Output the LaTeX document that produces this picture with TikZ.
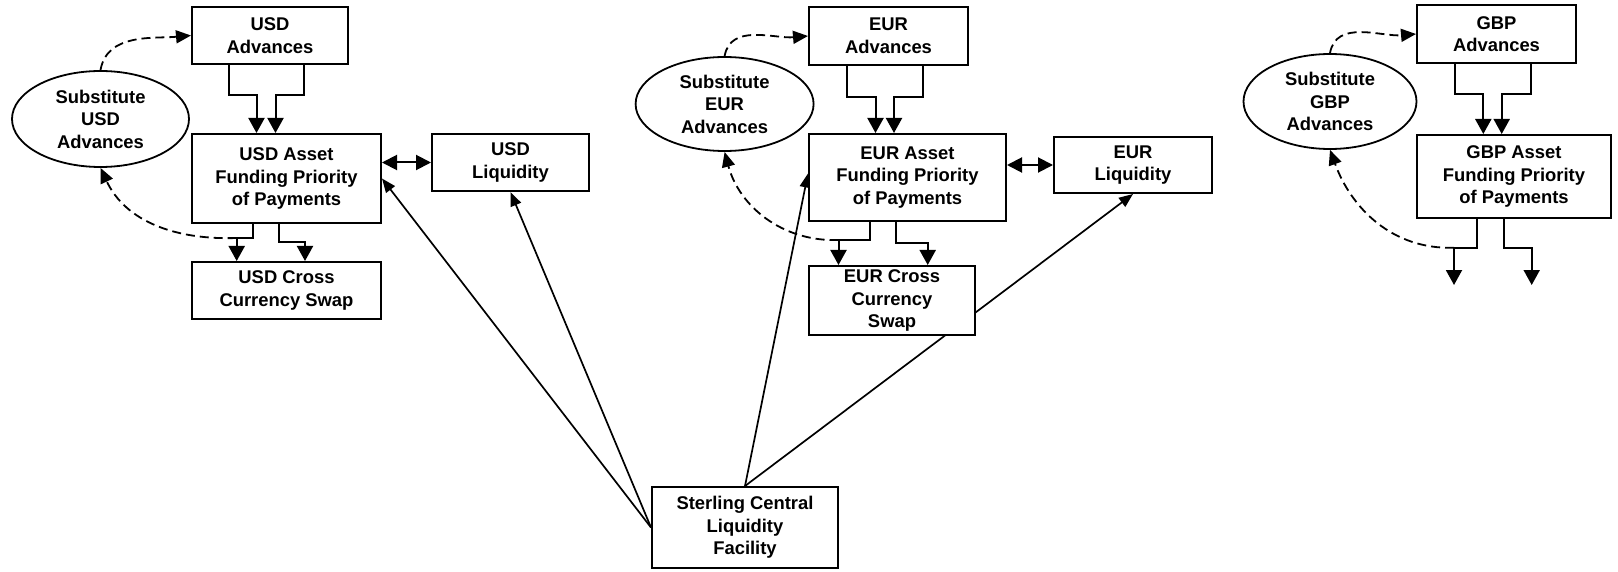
\documentclass[tikz,border=0pt]{standalone}
\usepackage{fontspec}
\setmainfont{Liberation Sans}
\usetikzlibrary{arrows.meta,backgrounds,shapes.geometric,calc}

\begin{document}
\begin{tikzpicture}[x=1bp,y=-1bp,
  font=\fontsize{18.4bp}{22.5bp}\selectfont\bfseries,
  box/.style={draw,line width=2bp,fill=white,rectangle,align=center,inner sep=0pt},
  oval/.style={draw,line width=1.8bp,fill=white,ellipse,align=center,inner sep=0pt},
  flow/.style={line width=2bp,-{Triangle[length=15bp,width=16bp]}},
  link/.style={line width=1.7bp,-{Triangle[length=14bp,width=11bp]}},
  both/.style={line width=2bp,{Triangle[length=15bp,width=15bp]}-{Triangle[length=15bp,width=15bp]}},
  subst/.style={line width=1.8bp,dash pattern=on 9bp off 5bp,-{Triangle[length=15bp,width=13bp]}}
]
\useasboundingbox (0,0) rectangle (1618,572);

% ---- USD column
\node[box,minimum width=156bp,minimum height=57bp] (usdadv) at (270,35.5) {USD\\Advances};
\node[oval,minimum width=177bp,minimum height=96bp] (usdsub) at (100.5,119) {Substitute\\USD\\Advances};
\node[box,minimum width=189bp,minimum height=89bp] (usdfpp) at (286.5,178.5) {USD Asset\\Funding Priority\\of Payments};
\node[box,minimum width=157bp,minimum height=57bp] (usdliq) at (510.5,162.5) {USD\\Liquidity};
\node[box,minimum width=189bp,minimum height=57bp] (usdccs) at (286.5,290.5) {USD Cross\\Currency Swap};

% ---- EUR column
\node[box,minimum width=159bp,minimum height=58bp] (euradv) at (888.5,36) {EUR\\Advances};
\node[oval,minimum width=178bp,minimum height=94bp] (eursub) at (724.6,104) {Substitute\\EUR\\Advances};
\node[box,minimum width=197bp,minimum height=87bp] (eurfpp) at (907.5,177.5) {EUR Asset\\Funding Priority\\of Payments};
\node[box,minimum width=158bp,minimum height=56bp] (eurliq) at (1133,165) {EUR\\Liquidity};
\node[box,minimum width=166bp,minimum height=69bp] (eurccs) at (892,300.5) {EUR Cross\\Currency\\Swap};

% ---- GBP column
\node[box,minimum width=159bp,minimum height=58bp] (gbpadv) at (1496.5,34) {GBP\\Advances};
\node[oval,minimum width=173bp,minimum height=95bp] (gbpsub) at (1330,101.5) {Substitute\\GBP\\Advances};
\node[box,minimum width=194bp,minimum height=83bp] (gbpfpp) at (1514,176.5) {GBP Asset\\Funding Priority\\of Payments};

% ---- Liquidity facility
\node[box,minimum width=186bp,minimum height=81bp] (sclf) at (745,527.5) {Sterling Central\\Liquidity\\Facility};

% split points below the priority-of-payments boxes
\coordinate (usdsplit) at ($(usdfpp.south)+(-49.8,14)$);
\coordinate (eursplit) at ($(eurfpp.south)+(-69,18)$);
\coordinate (gbpsplit) at ($(gbpfpp.south)+(-60,28.7)$);
\coordinate (gbpout1) at (1454,285);
\coordinate (gbpout2) at (1531.7,285);

\begin{scope}[on background layer]
  % advances into priority of payments
  \draw[flow] ([xshift=-41bp]usdadv.south) -- ++(0,30) -| ([xshift=-30bp]usdfpp.north);
  \draw[flow] ([xshift=34bp]usdadv.south) -- ++(0,30) -| ([xshift=-11bp]usdfpp.north);
  \draw[flow] ([xshift=-41.5bp]euradv.south) -- ++(0,31) -| ([xshift=-32bp]eurfpp.north);
  \draw[flow] ([xshift=34bp]euradv.south) -- ++(0,31) -| ([xshift=-13.5bp]eurfpp.north);
  \draw[flow] ([xshift=-41.5bp]gbpadv.south) -- ++(0,30) -| ([xshift=-30.7bp]gbpfpp.north);
  \draw[flow] ([xshift=34.5bp]gbpadv.south) -- ++(0,30) -| ([xshift=-12.3bp]gbpfpp.north);

  % priority of payments out to swaps
  \draw[flow] ([xshift=-34bp]usdfpp.south) |- (usdsplit) -- (usdsplit |- usdccs.north);
  \draw[flow] ([xshift=-7.5bp]usdfpp.south) -- ++(0,17.7) -| ([xshift=18.5bp]usdccs.north);
  \draw[flow] ([xshift=-37.5bp]eurfpp.south) |- (eursplit) -- (eursplit |- eurccs.north);
  \draw[flow] ([xshift=-11.5bp]eurfpp.south) -- ++(0,21) -| ([xshift=35.7bp]eurccs.north);
  \draw[flow] ([xshift=-37.3bp]gbpfpp.south) |- (gbpsplit) -- (gbpout1);
  \draw[flow] ([xshift=-10bp]gbpfpp.south) -- ++(0,29) -| (gbpout2);

  % liquidity exchange
  \draw[both] (usdliq.west -| usdfpp.east) -- (usdliq.west);
  \draw[both] (eurliq.west -| eurfpp.east) -- (eurliq.west);

  % substitute advances
  \draw[subst] (usdsub.north) to[out=80,in=185] (usdadv.west);
  \draw[subst] (usdsplit) to[out=182,in=-65] (usdsub.south);
  \draw[subst] (eursub.north) to[out=80,in=185] (euradv.west);
  \draw[subst] (eursplit) to[out=182,in=-75] (eursub.south);
  \draw[subst] (gbpsub.north) to[out=80,in=185] (gbpadv.west);
  \draw[subst] (gbpsplit) to[out=182,in=-70] (gbpsub.south);

  % sterling central liquidity facility
  \draw[link] (sclf.west) -- (usdfpp.east);
  \draw[link] (sclf.west) -- (usdliq.south);
  \draw[link] (sclf.north) -- ([yshift=4bp]eurfpp.west);
  \draw[link] (sclf.north) -- (eurliq.south);
\end{scope}
\end{tikzpicture}
\end{document}
